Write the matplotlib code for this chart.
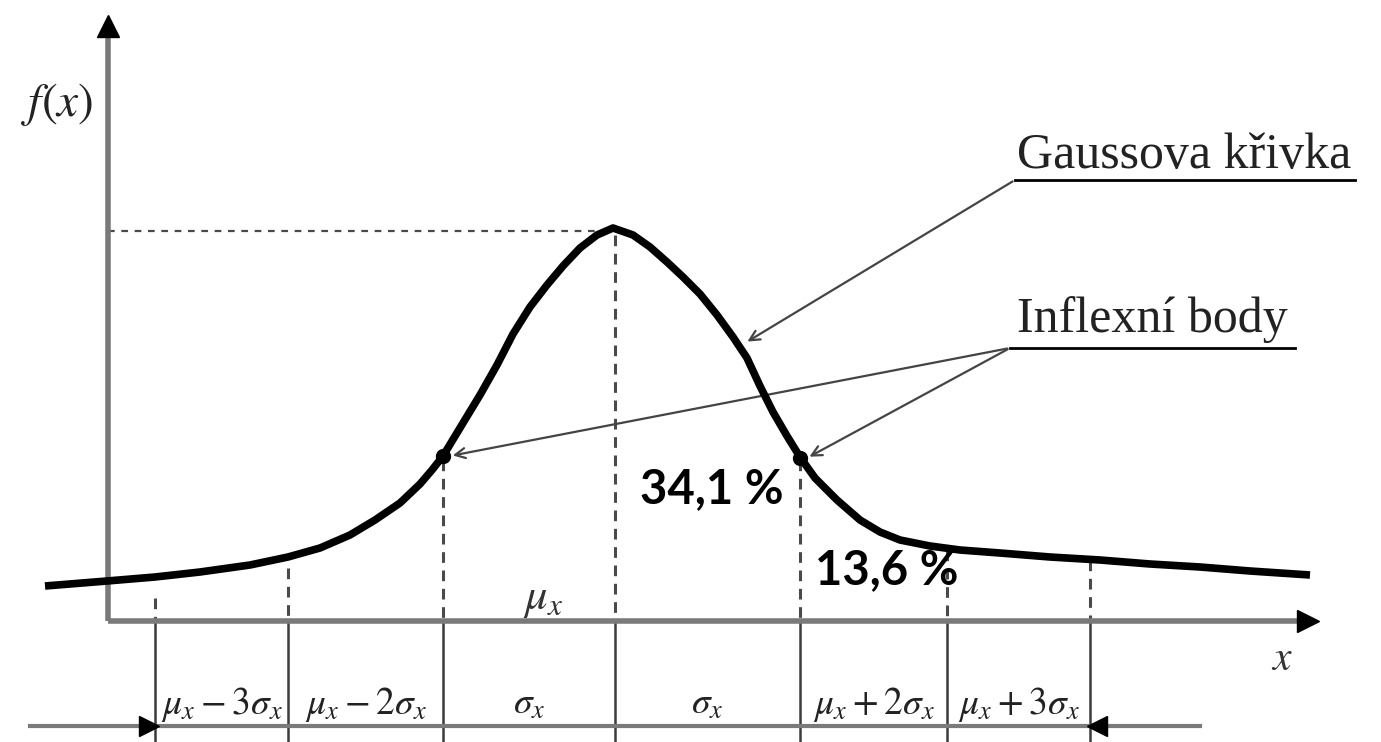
import matplotlib
matplotlib.use("Agg")
import matplotlib.pyplot as plt

# --- data (pixel-like units, y grows downward) ---
# Gaussian curve sampled along its path
curve_x = [45, 107, 155, 200, 250, 288, 320, 350, 375, 400, 420, 432, 443, 463, 480,
           497, 513, 530, 547, 563, 580, 597, 613, 633, 650, 667, 683, 700, 717,
           733, 747, 760, 773, 787, 800, 815, 837, 860, 880, 900, 930, 960, 1000,
           1050, 1100, 1150, 1200, 1250, 1310]
curve_y = [586, 581, 577, 572, 565, 557, 548, 535, 520, 503, 484, 470, 456, 423, 395,
           365, 334, 307, 285, 266, 248, 235, 228, 235, 247, 262, 277, 294, 315,
           337, 358, 386, 412, 436, 457, 478, 500, 520, 532, 540, 546, 550, 553,
           557, 560, 564, 567, 571, 575]

# division positions on the x axis (mu-3s ... mu+3s) and where the dashed part starts
division_x = [155, 288, 443, 615, 800, 947, 1090]
division_top = [598, 568, 460, 235, 460, 550, 560]

# labels of the intervals between divisions
interval_labels = [r"$\mu_x-3\sigma_x$", r"$\mu_x-2\sigma_x$", r"$\sigma_x$", r"$\sigma_x$",
                   r"$\mu_x+2\sigma_x$", r"$\mu_x+3\sigma_x$"]

# inflection points
inflex_x = [443, 800]
inflex_y = [456, 458]

# peak
peak_x = 613
peak_y = 230

# percentages written in the picture
pct_labels = ["34,1 %", "13,6 %"]
pct_x = [640, 815]
pct_y = [503, 584]

# axes geometry
axis_x0 = 108
axis_y0 = 621
axis_x_end = 1318
axis_y_end = 12
dim_y = 726
dim_x = [30, 1200]

plt.rcParams['mathtext.fontset'] = 'stix'

fig = plt.figure(figsize=(13.81, 7.42), dpi=100)
ax = fig.add_axes([0, 0, 1, 1])
ax.set_xlim(0, 1381)
ax.set_ylim(742, 0)
ax.axis('off')

axis_col = '#7a7a7a'
dash_col = '#4a4a4a'

# dashed verticals above axis, solid below
for x, top in zip(division_x, division_top):
    ax.plot([x, x], [top, axis_y0], color=dash_col, lw=2.2, dashes=(3.5, 2.5), zorder=2)
    ax.plot([x, x], [axis_y0, 742], color='#3a3a3a', lw=1.8, zorder=2)

# dashed horizontal from y axis to the peak
ax.plot([axis_x0, peak_x - 12], [peak_y + 1, peak_y + 1], color=dash_col, lw=1.6,
        dashes=(3, 3), zorder=2)

# axes
ax.plot([axis_x0, axis_x0], [axis_y0, axis_y_end + 18], color=axis_col, lw=4, zorder=3,
        solid_capstyle='butt')
ax.plot([axis_x0], [axis_y_end + 14], marker='^', ms=16, color='black', zorder=4)
ax.plot([axis_x0, axis_x_end - 15], [axis_y0, axis_y0], color=axis_col, lw=4, zorder=3,
        solid_capstyle='butt')
ax.plot([axis_x_end - 10], [axis_y0], marker='>', ms=16, color='black', zorder=4)

# bottom dimension line with arrows
ax.plot(dim_x, [dim_y, dim_y], color=axis_col, lw=3, zorder=3)
ax.plot([division_x[0] - 6], [dim_y], marker='>', ms=14, color='black', zorder=4)
ax.plot([division_x[-1] + 7], [dim_y], marker='<', ms=14, color='black', zorder=4)

# the curve
ax.plot(curve_x, curve_y, color='black', lw=5.5, solid_capstyle='butt',
        solid_joinstyle='round', zorder=5)
ax.plot(inflex_x, inflex_y, 'o', color='black', ms=10, zorder=6)

# interval labels
for i, lab in enumerate(interval_labels):
    cx = (division_x[i] + division_x[i + 1]) / 2
    ax.text(cx, 704, lab, fontsize=27, ha='center', va='center', color='#222222', zorder=6)

# axis labels
ax.text(57, 104, r"$f(x)$", fontsize=34, ha='center', va='center', color='#222222')
ax.text(1282, 658, r"$x$", fontsize=30, ha='center', va='center', color='#333333')
ax.text(543, 598, r"$\mu_x$", fontsize=32, ha='center', va='center', color='#333333')

# annotations
serif = ['Liberation Serif', 'DejaVu Serif']
ax.text(1017, 168, "Gaussova křivka", fontsize=36, family=serif, color='#222222',
        ha='left', va='baseline')
ax.plot([1015, 1355], [180, 180], color='black', lw=2)
ax.annotate('', xy=(745, 343), xytext=(1015, 180),
            arrowprops=dict(arrowstyle='->', color='#444444', lw=1.6, mutation_scale=18))

ax.text(1017, 332, "Inflexní body", fontsize=36, family=serif, color='#222222',
        ha='left', va='baseline')
ax.plot([1010, 1295], [348, 348], color='black', lw=2)
for x, y in zip(inflex_x, inflex_y):
    ax.annotate('', xy=(x + 7, y), xytext=(1010, 348),
                arrowprops=dict(arrowstyle='->', color='#444444', lw=1.6, mutation_scale=18))

# percentages
for lab, x, y in zip(pct_labels, pct_x, pct_y):
    ax.text(x, y, lab, fontsize=34, fontweight='bold', family=['Lato', 'DejaVu Sans'],
            ha='left', va='baseline', color='black', zorder=7)

fig.savefig('out.png', dpi=100)
